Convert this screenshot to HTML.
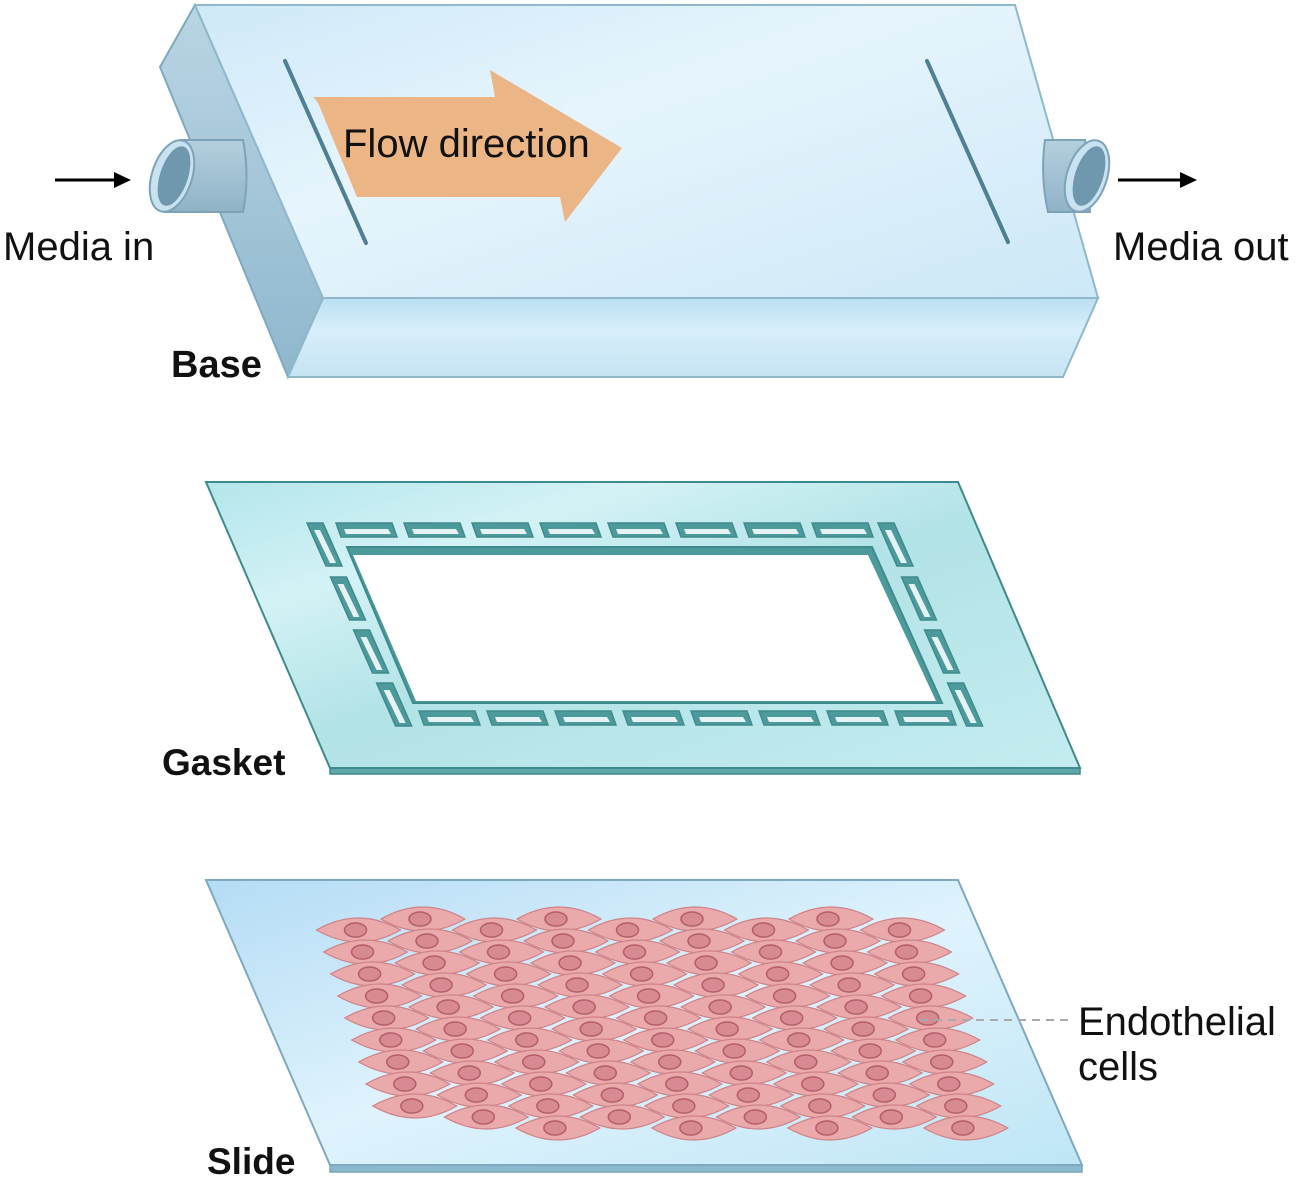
<!DOCTYPE html>
<html><head><meta charset="utf-8"><style>
html,body{margin:0;padding:0;background:#fff;}
svg{display:block;}
text{font-family:"Liberation Sans",sans-serif;}
</style></head><body>
<svg id="s" width="1300" height="1179" viewBox="0 0 1300 1179" xmlns="http://www.w3.org/2000/svg">
<defs>
<linearGradient id="top" x1="0" y1="0" x2="1" y2="1"><stop offset="0" stop-color="#cfe9f8"/><stop offset="0.4" stop-color="#e6f5fd"/><stop offset="1" stop-color="#cde8f7"/></linearGradient>
<linearGradient id="front" x1="0" y1="0" x2="0" y2="1"><stop offset="0" stop-color="#b8e0f2"/><stop offset="0.4" stop-color="#d8eefa"/><stop offset="1" stop-color="#c6e4f4"/></linearGradient>
<linearGradient id="side" x1="0" y1="0" x2="0" y2="1"><stop offset="0" stop-color="#b9d5e4"/><stop offset="1" stop-color="#8fb7cc"/></linearGradient>
<linearGradient id="gas" x1="0" y1="0" x2="1" y2="1"><stop offset="0" stop-color="#b4e6ea"/><stop offset="0.25" stop-color="#d3f2f6"/><stop offset="0.5" stop-color="#b2e3e6"/><stop offset="1" stop-color="#c4ecf0"/></linearGradient>
<linearGradient id="sl" x1="0" y1="0" x2="1" y2="1"><stop offset="0" stop-color="#b5dcf5"/><stop offset="0.5" stop-color="#dff3fd"/><stop offset="1" stop-color="#bfe6f6"/></linearGradient>
<linearGradient id="tube" x1="0" y1="0" x2="0" y2="1"><stop offset="0" stop-color="#b4d0df"/><stop offset="1" stop-color="#8fb3c6"/></linearGradient>
</defs>

<polygon points="195,5 323,298 288,377 160,67" fill="url(#side)" stroke="#7fa9bf" stroke-width="2"/>
<polygon points="323,298 1098,298 1063,377 288,377" fill="url(#front)" stroke="#8fb8cc" stroke-width="2"/>
<polygon points="195,5 1015,5 1098,298 323,298" fill="url(#top)" stroke="#8fb8cc" stroke-width="2"/>
<line x1="285" y1="61" x2="366" y2="243" stroke="#4f7f94" stroke-width="4" stroke-linecap="round"/>
<line x1="927" y1="61" x2="1008" y2="242" stroke="#4f7f94" stroke-width="4" stroke-linecap="round"/>
<path d="M180,140 L243,140 Q250,176 243,212 L165,212 Z" fill="url(#tube)" stroke="#7ea3b8" stroke-width="2"/>
<ellipse cx="172" cy="176" rx="20" ry="37" transform="rotate(18 172 176)" fill="#c9e2ef" stroke="#7ea3b8" stroke-width="2"/>
<ellipse cx="174" cy="176" rx="14" ry="31" transform="rotate(18 174 176)" fill="#6f97ad"/>
<path d="M1045,140 L1085,140 L1090,212 L1048,212 Q1040,176 1045,140 Z" fill="url(#tube)" stroke="#7ea3b8" stroke-width="2"/>
<ellipse cx="1087" cy="176" rx="20" ry="37" transform="rotate(18 1087 176)" fill="#c9e2ef" stroke="#7ea3b8" stroke-width="2"/>
<ellipse cx="1089" cy="176" rx="14" ry="31" transform="rotate(18 1089 176)" fill="#6f97ad"/>
<path d="M313,97 L495,97 L490,70 L622,148 L565,222 L560,197 L357,197 Q350,180 325,120 Q318,100 313,97 Z" fill="#ecb585"/>
<text x="343" y="157" font-size="40" fill="#111">Flow direction</text>

<line x1="55" y1="180" x2="118" y2="180" stroke="#000" stroke-width="3"/>
<polygon points="131,180 114,172 114,188" fill="#000"/>
<line x1="1118" y1="180" x2="1183" y2="180" stroke="#000" stroke-width="3"/>
<polygon points="1197,180 1180,172 1180,188" fill="#000"/>
<text x="3" y="260" font-size="40" fill="#111">Media in</text>
<text x="1113" y="260" font-size="40" fill="#111">Media out</text>
<text x="171" y="377" font-size="38" font-weight="bold" fill="#111">Base</text>

<polygon points="206,482 958,482 1080,768 1080,774 330,774 330,768" fill="#5fa7a8" stroke="#3f8a8c" stroke-width="1.5"/>
<polygon points="206,482 958,482 1080,768 330,768" fill="url(#gas)" stroke="#3f8a8c" stroke-width="2"/>
<polygon points="347,547 872,547 942,703 413,703" fill="#4c9a9b" stroke="#3f8a8c" stroke-width="2"/>
<polygon points="353,555 868,555 936,701 416,701" fill="#fff"/>
<g id="slots"></g>
<text x="162" y="775" font-size="37" font-weight="bold" fill="#111">Gasket</text>

<polygon points="206,880 958,880 1082,1165 1082,1172 330,1172 330,1165" fill="#8bb9cf" stroke="#7aa6bb" stroke-width="1.5"/>
<polygon points="206,880 958,880 1082,1165 330,1165" fill="url(#sl)" stroke="#7fa9bf" stroke-width="2"/>
<g id="cells"></g>
<line x1="920" y1="1020" x2="1072" y2="1020" stroke="#aaa" stroke-width="2" stroke-dasharray="8,6"/>
<text x="1078" y="1035" font-size="40" fill="#111">Endothelial</text>
<text x="1078" y="1080" font-size="40" fill="#111">cells</text>
<text x="207" y="1174" font-size="37" font-weight="bold" fill="#111">Slide</text>
</svg>
<script>
var NS="http://www.w3.org/2000/svg";
function el(p,t,a){var e=document.createElementNS(NS,t);for(var k in a)e.setAttribute(k,a[k]);p.appendChild(e);return e;}
function pts(a){return a.map(function(p){return p.join(",")}).join(" ");}
var sg=document.getElementById("slots");
function slot(o,i){el(sg,"polygon",{points:pts(o),fill:"#4c9a9b",stroke:"#3f8a8c","stroke-width":1.5});
 el(sg,"polygon",{points:pts(i),fill:"#e6f3f4"});}
for(var k=0;k<8;k++){var x=336+k*68;slot([[x,523],[x+56,523],[x+61,537],[x+5,537]],[[x+8,529],[x+52,529],[x+55,534],[x+10,534]]);}
for(var k=0;k<8;k++){var x=419+k*68;slot([[x,711],[x+56,711],[x+61,725],[x+5,725]],[[x+8,717],[x+52,717],[x+55,722],[x+10,722]]);}
var ly=[523,577,630,683];
function side(x,y){slot([[x,y],[x+16,y],[x+35,y+43],[x+19,y+43]],[[x+7,y+7],[x+13,y+7],[x+29,y+40],[x+23,y+40]]);}
ly.forEach(function(y){side(307+(y-523)*0.435,y);});
ly.forEach(function(y){side(878+(y-523)*0.435,y);});
var cg=document.getElementById("cells");
for(var r=0;r<20;r++){
 var y=919+11*r; var odd=(r%2==1);
 var left=(odd?355:423)+0.32*(y-919);
 var n=odd?5:4;
 if(r==0)n=4;
 for(var j=0;j<n;j++){
  var x=left+136*j;
  if(r>=18 && x<430)continue;
  if(r==19 && x<520)continue;
  el(cg,"path",{d:"M"+(x-42)+","+y+" Q"+x+","+(y-24)+" "+(x+42)+","+y+" Q"+x+","+(y+24)+" "+(x-42)+","+y+" Z",fill:"#eaa9ab",stroke:"#cf8288","stroke-width":1.2});
  el(cg,"ellipse",{cx:x-3,cy:y,rx:11,ry:7,fill:"#d78a92",stroke:"#b45e6b","stroke-width":1.5});
 }
}
</script>
</body></html>
